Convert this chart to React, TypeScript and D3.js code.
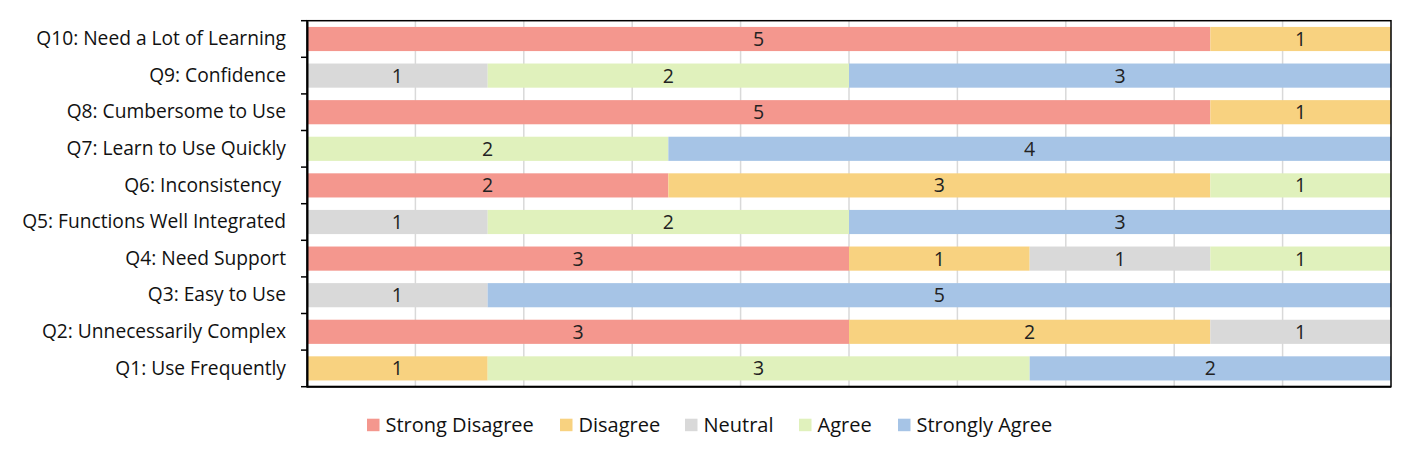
import { FC, useEffect, useRef } from 'react';
import * as d3 from 'd3';

const questions = [
  'Q10: Need a Lot of Learning',
  'Q9: Confidence',
  'Q8: Cumbersome to Use',
  'Q7: Learn to Use Quickly',
  'Q6: Inconsistency ',
  'Q5: Functions Well Integrated',
  'Q4: Need Support',
  'Q3: Easy to Use',
  'Q2: Unnecessarily Complex',
  'Q1: Use Frequently',
];

const responses = ['Strong Disagree', 'Disagree', 'Neutral', 'Agree', 'Strongly Agree'];

const strongDisagree = [5, 0, 5, 0, 2, 0, 3, 0, 3, 0];
const disagree = [1, 0, 1, 0, 3, 0, 1, 0, 2, 1];
const neutral = [0, 1, 0, 0, 0, 1, 1, 1, 1, 0];
const agree = [0, 2, 0, 2, 1, 2, 1, 0, 0, 3];
const stronglyAgree = [0, 3, 0, 4, 0, 3, 0, 5, 0, 2];

const colors = ['#F4978E', '#F8D280', '#D9D9D9', '#E0F1BC', '#A6C4E6'];

const FONT = "'Open Sans', 'Noto Sans', sans-serif";

const App: FC = () => {
  const ref = useRef<SVGSVGElement | null>(null);

  useEffect(() => {
    document.body.style.margin = '0';
    const svg = d3.select(ref.current);
    svg.selectAll('*').remove();

    const margin = { top: 20.7, right: 21, bottom: 68.3, left: 307 };
    const width = 1412 - margin.left - margin.right;
    const height = 455 - margin.top - margin.bottom;

    const rows = questions.map((q, i) => ({
      question: q,
      'Strong Disagree': strongDisagree[i],
      Disagree: disagree[i],
      Neutral: neutral[i],
      Agree: agree[i],
      'Strongly Agree': stronglyAgree[i],
    }));

    const stack = d3.stack<any>().keys(responses)(rows);

    const x = d3.scaleLinear().domain([0, 6]).range([0, width]);
    const y = d3.scaleBand().domain(questions).range([0, height]).paddingInner(0.34).paddingOuter(0.17);
    const band = d3.scaleBand().domain(questions).range([0, height]);
    const color = d3.scaleOrdinal<string>().domain(responses).range(colors);

    const g = svg.append('g').attr('transform', `translate(${margin.left},${margin.top})`);

    // vertical gridlines
    g.append('g')
      .selectAll('line')
      .data(d3.range(1, 10).map(i => i * 0.6))
      .enter()
      .append('line')
      .attr('x1', d => x(d))
      .attr('x2', d => x(d))
      .attr('y1', 0)
      .attr('y2', height)
      .attr('stroke', '#D9D9D9')
      .attr('stroke-width', 1.5);

    const layer = g
      .selectAll('.layer')
      .data(stack)
      .enter()
      .append('g')
      .attr('class', 'layer')
      .attr('fill', d => color(d.key));

    layer
      .selectAll('rect')
      .data(d => d.filter(s => s[1] - s[0] > 0))
      .enter()
      .append('rect')
      .attr('x', d => x(d[0]))
      .attr('y', d => y(d.data.question)!)
      .attr('width', d => x(d[1]) - x(d[0]))
      .attr('height', y.bandwidth());

    layer
      .selectAll('text')
      .data(d => d.filter(s => s[1] - s[0] > 0))
      .enter()
      .append('text')
      .attr('x', d => (x(d[0]) + x(d[1])) / 2)
      .attr('y', d => y(d.data.question)! + y.bandwidth() / 2)
      .attr('dy', '0.36em')
      .attr('text-anchor', 'middle')
      .attr('fill', '#222')
      .attr('font-family', FONT)
      .attr('font-size', 19.5)
      .text(d => d[1] - d[0]);

    // frame
    g.append('rect')
      .attr('width', width)
      .attr('height', height)
      .attr('fill', 'none')
      .attr('stroke', '#000')
      .attr('stroke-width', 1.5);

    // left axis
    const yAxis = g
      .append('g')
      .call(d3.axisLeft(band).tickSize(0).tickPadding(21));
    yAxis.select('.domain').attr('stroke', '#000').attr('stroke-width', 2);
    yAxis
      .selectAll('.tick text')
      .attr('font-family', FONT)
      .attr('font-size', 19.2)
      .attr('fill', '#111')
      .style('white-space', 'pre');

    g.append('g')
      .selectAll('line')
      .data(d3.range(0, questions.length + 1))
      .enter()
      .append('line')
      .attr('x1', -6)
      .attr('x2', 0)
      .attr('y1', i => i * band.step())
      .attr('y2', i => i * band.step())
      .attr('stroke', '#000')
      .attr('stroke-width', 1.5);

    g.append('line')
      .attr('x1', 0)
      .attr('x2', width)
      .attr('y1', height)
      .attr('y2', height)
      .attr('stroke', '#000')
      .attr('stroke-width', 2);

    // legend
    const legendX = [367, 560, 685, 799, 898];
    const legend = svg
      .append('g')
      .selectAll('g')
      .data(responses)
      .enter()
      .append('g')
      .attr('transform', (d, i) => `translate(${legendX[i]},425)`);

    legend
      .append('rect')
      .attr('x', 0)
      .attr('y', -6.3)
      .attr('width', 12.5)
      .attr('height', 12.5)
      .attr('fill', d => color(d));

    legend
      .append('text')
      .attr('x', 18.5)
      .attr('y', 0)
      .attr('dy', '0.36em')
      .attr('font-family', FONT)
      .attr('font-size', 20)
      .attr('fill', '#111')
      .text(d => d);
  }, []);

  return <svg ref={ref} width={1412} height={455} style={{ display: 'block' }} />;
};

export default App;
